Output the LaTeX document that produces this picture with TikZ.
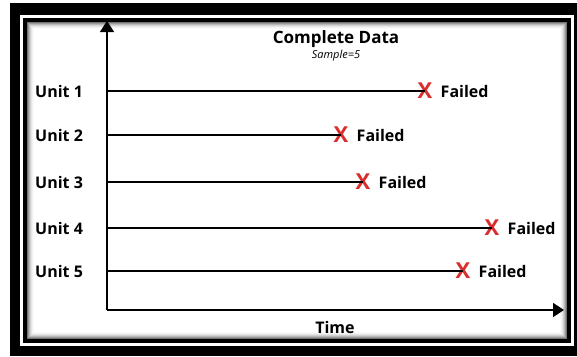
\documentclass[tikz,border=0pt]{standalone}
\usepackage{fontspec}
\setmainfont{Open Sans}
\usetikzlibrary{arrows.meta}
\definecolor{failred}{RGB}{218,45,45}
\tikzset{
  unitlabel/.style={font=\bfseries\fontsize{16}{18}\selectfont, anchor=west, inner sep=0pt},
  failmark/.style={font=\bfseries\fontsize{22}{24}\selectfont, text=failred, inner sep=0pt},
  faillabel/.style={font=\bfseries\fontsize{16}{18}\selectfont, anchor=west, inner sep=0pt},
  lifeline/.style={line width=1.3pt},
  axisline/.style={line width=1.6pt, -{Triangle[length=11pt,width=14pt]}}
}
\begin{document}
\begin{tikzpicture}[x=1pt, y=-1pt]
    \useasboundingbox (0,0) rectangle (577,356);
    % Frames
    \begin{scope}
      \clip (0,0) rectangle (577,356);
      \fill[black] (10,3) rectangle (590,356);
      \fill[white] (20,15) rectangle (574,346);
      \fill[black] (23,18) rectangle (571,343);
    \end{scope}
    \foreach \i/\c in {0/55,1/40,2/28,3/18,4/10,5/5,6/2}
      \fill[black!\c] (27+\i,22+\i) rectangle (567-\i,339-\i);
    \fill[white] (34,29) rectangle (560,332);

    % Title
    \node[font=\bfseries\fontsize{17}{19}\selectfont] (title) at (336,39) {Complete Data};
    \node[font=\itshape\fontsize{11}{13}\selectfont] (sample) at (336,56) {Sample=5};

    % Axes
    \coordinate (O) at (107,310);
    \coordinate (ytop) at (107,21);
    \coordinate (xend) at (564,310);
    \draw[axisline] (O) -- (ytop);
    \draw[axisline] (O) -- (xend);
    \node[font=\bfseries\fontsize{16}{18}\selectfont] (time) at (335,327) {Time};

    % Units
    \foreach \n/\y/\e in {1/91/425, 2/135/341, 3/182/363, 4/228/492, 5/271/463} {
      \node[unitlabel] (u\n) at (35,\y) {Unit \n};
      \coordinate (s\n) at (107,\y);
      \node[failmark] (x\n) at (\e,\y) {X};
      \draw[lifeline] (s\n) -- (x\n.center);
      \node[faillabel] (f\n) at ([xshift=8pt]x\n.east) {Failed};
    }
\end{tikzpicture}
\end{document}
